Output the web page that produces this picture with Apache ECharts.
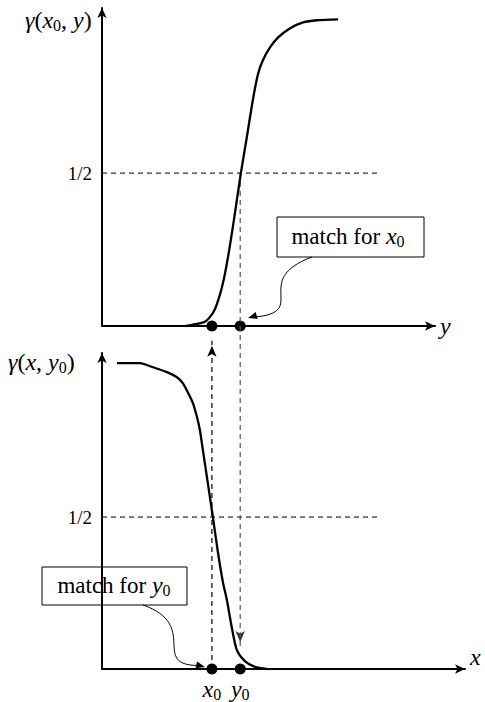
<!DOCTYPE html>
<html>
<head>
<meta charset="utf-8">
<script src="https://cdn.jsdelivr.net/npm/echarts@6/dist/echarts.min.js"></script>
<style>
  html, body { margin: 0; padding: 0; background: #fff; }
  #chart { width: 485px; height: 702px; }
</style>
</head>
<body>
<div id="chart"></div>
<script>
// top panel: gamma(x0, y) rising curve
var topCurveX = [2.52, 2.85, 3.09, 3.24, 3.39, 3.50, 3.60, 3.70, 3.84, 3.98, 4.17, 4.35, 4.53, 4.68, 4.83, 5.05, 5.29, 5.65, 6.04, 6.46, 7.09];
var topCurveY = [0, 0.007, 0.014, 0.029, 0.055, 0.088, 0.126, 0.175, 0.262, 0.36, 0.50, 0.618, 0.739, 0.822, 0.869, 0.912, 0.944, 0.974, 0.993, 1.0, 1.003];
// bottom panel: gamma(x, y0) falling curve
var botCurveX = [0.45, 1.14, 1.53, 1.95, 2.25, 2.43, 2.58, 2.73, 2.85, 2.94, 3.03, 3.18, 3.33, 3.48, 3.63, 3.75, 3.90, 4.05, 4.29, 4.59, 4.95];
var botCurveY = [1.007, 1.007, 0.993, 0.977, 0.96, 0.94, 0.91, 0.875, 0.83, 0.786, 0.72, 0.61, 0.50, 0.385, 0.286, 0.227, 0.135, 0.062, 0.026, 0.007, 0];

var halfLevel = 0.5;
var halfLineEnd = 8.3;
var matchX0 = 3.3;   // x0 position on both axes
var matchY0 = 4.15;  // y0 position on both axes
var x0ArrowTop = 1.08;     // dashed arrow from x0 reaches up to the top axis (bottom panel units)
var y0ArrowBottom = -1.05; // dashed arrow from the 1/2 crossing down to the bottom curve (top panel units)

function pairs(xs, ys) {
    var out = [];
    for (var i = 0; i < xs.length; i++) {
        out.push([xs[i], ys[i]]);
    }
    return out;
}

var serif = 'Liberation Serif, Times New Roman, serif';
var mathRich = {
    i: { fontFamily: serif, fontStyle: 'italic', fontWeight: 'normal', fontSize: 24, color: '#000' },
    n: { fontFamily: serif, fontWeight: 'normal', fontSize: 24, color: '#000' },
    s: { fontFamily: serif, fontWeight: 'normal', fontSize: 16, color: '#000', padding: [11, 0, 0, 0] },
    t: { fontFamily: serif, fontWeight: 'normal', fontSize: 23, color: '#000' }
};

var axisCommon = {
    axisTick: { show: false },
    splitLine: { show: false },
    axisLine: {
        symbol: ['none', 'arrow'],
        symbolSize: [7, 10],
        lineStyle: { color: '#000', width: 2 }
    }
};

function xAxisFor(grid, max, name, vAlign) {
    return echarts.util.merge({
        type: 'value', gridIndex: grid, min: 0, max: max,
        axisLabel: { show: false },
        name: name, nameLocation: 'end', nameGap: 5,
        nameTextStyle: {
            fontFamily: serif, fontStyle: 'italic', fontSize: 24, color: '#000',
            verticalAlign: vAlign
        }
    }, axisCommon, true);
}

function yAxisFor(grid) {
    return echarts.util.merge({
        type: 'value', gridIndex: grid, min: 0, max: 1.04, interval: 0.5,
        axisLabel: {
            margin: 10, fontFamily: serif, fontSize: 19, color: '#000',
            formatter: function(v) { return v === 0.5 ? '1/2' : ''; }
        }
    }, axisCommon, true);
}

function arrowHead(xIdx, yIdx, point, up, color) {
    return {
        type: 'scatter', xAxisIndex: xIdx, yAxisIndex: yIdx, clip: false, silent: true,
        data: [point], symbol: 'arrow', symbolSize: [7, 11],
        symbolRotate: up ? 0 : 180,
        symbolOffset: [0, up ? 5 : -5],
        itemStyle: { color: color, opacity: 1 }
    };
}

var chart = echarts.init(document.getElementById('chart'), null, { renderer: 'svg' });

chart.setOption({
    animation: false,
    backgroundColor: '#fff',
    title: [{
        text: '{i|γ}{n|(}{i|x}{s|0}{n|, }{i|y}{n|)}',
        left: 20, top: 1,
        textStyle: { rich: mathRich }
    }, {
        text: '{i|γ}{n|(}{i|x}{n|, }{i|y}{s|0}{n|)}',
        left: 3, top: 343,
        textStyle: { rich: mathRich }
    }],
    grid: [
        { left: 102, top: 8, width: 333, height: 318 },
        { left: 102, top: 353, width: 363, height: 316 }
    ],
    xAxis: [xAxisFor(0, 10, 'y', 'middle'), xAxisFor(1, 10.9, 'x', 'bottom')],
    yAxis: [yAxisFor(0), yAxisFor(1)],
    series: [{
        type: 'line', xAxisIndex: 0, yAxisIndex: 0,
        data: [[0, halfLevel], [halfLineEnd, halfLevel]],
        symbol: 'none', silent: true,
        lineStyle: { color: '#000', width: 1, type: [5, 4] }
    }, {
        type: 'line', xAxisIndex: 1, yAxisIndex: 1,
        data: [[0, halfLevel], [halfLineEnd, halfLevel]],
        symbol: 'none', silent: true,
        lineStyle: { color: '#000', width: 1, type: [5, 4] }
    }, {
        // dashed line from the 1/2 crossing of the top curve down to the bottom curve
        type: 'line', xAxisIndex: 0, yAxisIndex: 0, clip: false, silent: true,
        data: [[matchY0, halfLevel], [matchY0, y0ArrowBottom]], symbol: 'none',
        lineStyle: { color: '#555', width: 1.2, type: [5, 4] }
    },
    arrowHead(0, 0, [matchY0, y0ArrowBottom], false, '#333'),
    {
        // dashed line from x0 on the bottom axis up to the top axis
        type: 'line', xAxisIndex: 1, yAxisIndex: 1, clip: false, silent: true,
        data: [[matchX0, 0], [matchX0, x0ArrowTop]], symbol: 'none',
        lineStyle: { color: '#000', width: 1.2, type: [5, 4] }
    },
    arrowHead(1, 1, [matchX0, x0ArrowTop], true, '#000'),
    {
        type: 'line', xAxisIndex: 0, yAxisIndex: 0,
        data: pairs(topCurveX, topCurveY),
        smooth: 0.25, symbol: 'none', clip: false,
        lineStyle: { color: '#000', width: 2.3 }
    }, {
        type: 'line', xAxisIndex: 1, yAxisIndex: 1,
        data: pairs(botCurveX, botCurveY),
        smooth: 0.25, symbol: 'none', clip: false,
        lineStyle: { color: '#000', width: 2.3 }
    }, {
        type: 'scatter', xAxisIndex: 0, yAxisIndex: 0, clip: false,
        data: [[matchX0, 0], [matchY0, 0]],
        symbolSize: 11, itemStyle: { color: '#000', opacity: 1 }
    }, {
        type: 'scatter', xAxisIndex: 1, yAxisIndex: 1, clip: false,
        data: [
            { value: [matchX0, 0], name: 'x' },
            { value: [matchY0, 0], name: 'y' }
        ],
        symbolSize: 11, itemStyle: { color: '#000', opacity: 1 },
        label: {
            show: true, position: 'bottom', distance: 1,
            formatter: function(p) { return '{i|' + p.name + '}{s|0}'; },
            rich: mathRich
        }
    }],
    graphic: [{
        type: 'group',
        children: [{
            type: 'rect',
            shape: { x: 277, y: 217, width: 147, height: 40 },
            style: { fill: '#fff', stroke: '#000', lineWidth: 1 }
        }, {
            type: 'text',
            x: 348, y: 236,
            style: {
                text: '{t|match for }{i|x}{s|0}', rich: mathRich,
                align: 'center', verticalAlign: 'middle'
            }
        }, {
            type: 'bezierCurve',
            shape: { x1: 312, y1: 257, cpx1: 250, cpy1: 280, cpx2: 310, cpy2: 312, x2: 255, y2: 317 },
            style: { stroke: '#000', lineWidth: 1, fill: null }
        }, {
            type: 'polygon',
            shape: { points: [[248, 318], [257.6, 318.9], [255.7, 312.1]] },
            style: { fill: '#000' }
        }]
    }, {
        type: 'group',
        children: [{
            type: 'rect',
            shape: { x: 42, y: 567, width: 145, height: 38 },
            style: { fill: '#fff', stroke: '#000', lineWidth: 1 }
        }, {
            type: 'text',
            x: 114, y: 585,
            style: {
                text: '{t|match for }{i|y}{s|0}', rich: mathRich,
                align: 'center', verticalAlign: 'middle'
            }
        }, {
            type: 'bezierCurve',
            shape: { x1: 143, y1: 605, cpx1: 200, cpy1: 625, cpx2: 150, cpy2: 665, x2: 198, y2: 665.5 },
            style: { stroke: '#000', lineWidth: 1, fill: null }
        }, {
            type: 'polygon',
            shape: { points: [[205, 667], [195.5, 668.2], [197.1, 661.4]] },
            style: { fill: '#000' }
        }]
    }]
});
</script>
</body>
</html>
